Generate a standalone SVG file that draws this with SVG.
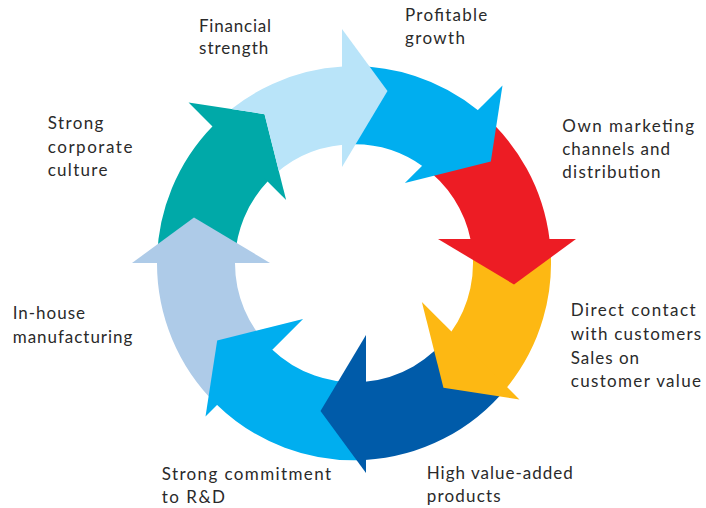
<svg xmlns="http://www.w3.org/2000/svg" width="706" height="508" viewBox="0 0 706 508">
<style>
text{font-family:Lato,"Liberation Sans",sans-serif;font-size:17px;fill:#2a2a2a}
.lb{fill:#b9e4f9}.b{fill:#00aeef}.r{fill:#ed1c24}.y{fill:#fdb813}.db{fill:#005ba9}.mb{fill:#00aeef}.p{fill:#aecbe8}.t{fill:#00a9a8}
</style>
<defs>
<clipPath id="noTeal"><path clip-rule="evenodd" d="M0,0H706V508H0Z M188.54,102.51 L286.12,200.09 L264.55,114.18Z"/></clipPath>
</defs>
<rect width="706" height="508" fill="#fff"/>
<g id="strong-corporate-culture">
<path class="t" d="M157,262 A197,197 0 0 1 213.08,125.64 L268.24,180.8 A119,119 0 0 0 235.01,262 Z"/>
<path class="t" d="M188.54,102.51 L286.12,200.09 L264.55,114.18 Z"/>
<text x="47.7" y="129.3" textLength="55.7" lengthAdjust="spacing">Strong</text>
<text x="47.7" y="152.7" textLength="84.7" lengthAdjust="spacing">corporate</text>
<text x="47.7" y="176" textLength="59.7" lengthAdjust="spacing">culture</text>
</g>
<g id="in-house-manufacturing">
<path class="p" d="M216.34,404.22 A197,197 0 0 1 157,262 L235.01,262 A119,119 0 0 0 271.5,349.06 Z"/>
<path class="p" d="M132,263 L270,263 L194,217.5 Z"/>
<text x="12.7" y="319" textLength="72.3" lengthAdjust="spacing">In-house</text>
<text x="12.7" y="343.3" textLength="119.7" lengthAdjust="spacing">manufacturing</text>
</g>
<g id="strong-commitment">
<path class="mb" d="M365,459.99 A197,197 0 0 1 216.34,404.22 L271.5,349.06 A119,119 0 0 0 365,381.79 Z"/>
<path class="mb" d="M205.51,416.46 L303.09,318.88 L217.18,340.45 Z"/>
<text x="161.7" y="480" textLength="169.3" lengthAdjust="spacing">Strong commitment</text>
<text x="161.7" y="502.7" textLength="63.3" lengthAdjust="spacing">to R&amp;D</text>
</g>
<g id="high-value-added">
<path class="db" d="M506.53,387.97 A197,197 0 0 1 365,459.99 L365,381.79 A119,119 0 0 0 450.92,332.36 Z"/>
<path class="db" d="M366,473 L366,335 L320.5,411 Z"/>
<text x="426.7" y="479.3" textLength="146" lengthAdjust="spacing">High value-added</text>
<text x="426.7" y="501.7" textLength="74" lengthAdjust="spacing">products</text>
</g>
<g id="direct-contact">
<path class="y" d="M549.62,240 A197,197 0 0 1 506.53,387.97 L450.92,332.36 A119,119 0 0 0 470.7,240 Z"/>
<path class="y" d="M519.46,399.49 L421.88,301.91 L443.45,387.82 Z"/>
<text x="570.7" y="316" textLength="125" lengthAdjust="spacing">Direct contact</text>
<text x="570.7" y="340" textLength="130.5" lengthAdjust="spacing">with customers</text>
<text x="570.7" y="364" textLength="68.3" lengthAdjust="spacing">Sales on</text>
<text x="570.7" y="387.3" textLength="130.3" lengthAdjust="spacing">customer value</text>
</g>
<g id="own-marketing">
<path class="r" d="M478.68,110.76 A197,197 0 0 1 549.62,240 L470.7,240 A119,119 0 0 0 423.05,166.39 Z"/>
<path class="r" d="M576,239 L438,239 L514,284.5 Z"/>
<text x="562.3" y="131.7" textLength="131.7" lengthAdjust="spacing">Own marketing</text>
<text x="562.3" y="154.8" textLength="107.7" lengthAdjust="spacing">channels and</text>
<text x="562.3" y="177.8" textLength="98.3" lengthAdjust="spacing">distribution</text>
</g>
<g id="profitable-growth">
<path class="b" d="M343,66.61 A197,197 0 0 1 478.68,110.76 L423.05,166.39 A119,119 0 0 0 343,144.81 Z"/>
<path class="b" d="M502.49,85.54 L404.91,183.12 L490.82,161.55 Z"/>
<text x="405" y="21" textLength="82.3" lengthAdjust="spacing">Profitable</text>
<text x="405" y="44.3" textLength="60" lengthAdjust="spacing">growth</text>
</g>
<g id="financial-strength">
<path class="lb" clip-path="url(#noTeal)" d="M213.08,125.64 A197,197 0 0 1 343,66.61 L343,144.81 A119,119 0 0 0 268.24,180.8 Z"/>
<path class="lb" d="M342,29 L342,167 L387.5,91 Z"/>
<text x="199" y="31.7" textLength="72" lengthAdjust="spacing">Financial</text>
<text x="199" y="54.3" textLength="69.3" lengthAdjust="spacing">strength</text>
</g>
<g id="connectors"/>
</svg>
